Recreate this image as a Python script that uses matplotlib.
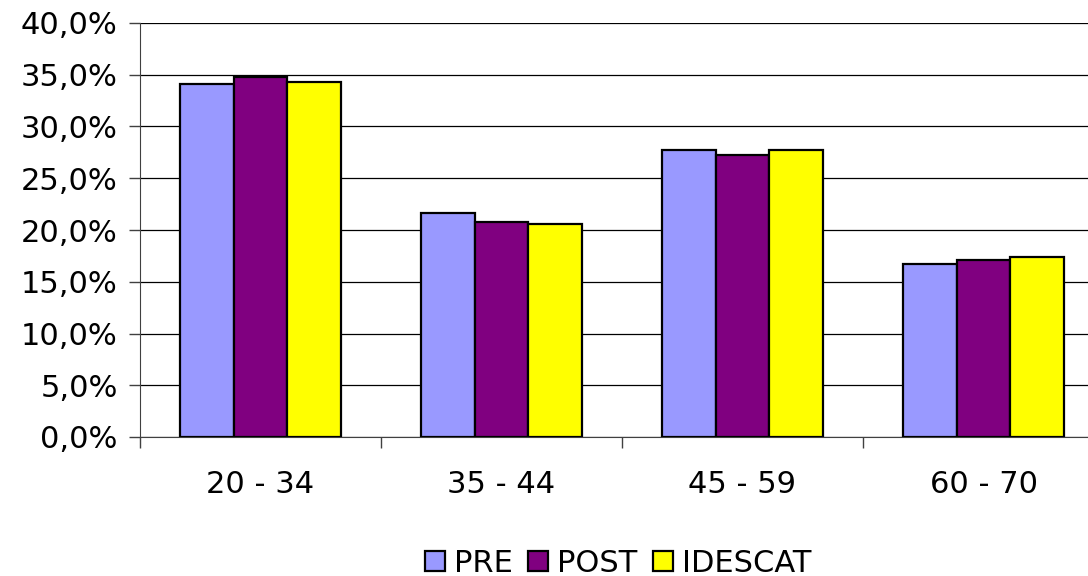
import matplotlib
matplotlib.use("Agg")
import matplotlib.pyplot as plt
from matplotlib.ticker import FuncFormatter
import numpy as np

# data (percent)
groups = ["20 - 34", "35 - 44", "45 - 59", "60 - 70"]
series_names = ["PRE", "POST", "IDESCAT"]
pre = [34.1, 21.6, 27.7, 16.7]
post = [34.8, 20.8, 27.2, 17.1]
idescat = [34.3, 20.6, 27.7, 17.4]
colors = ["#9999FF", "#800080", "#FFFF00"]

plt.rcParams["font.family"] = ["DejaVu Sans"]

fig = plt.figure(figsize=(10.88, 5.76), dpi=100)
# axes runs a bit past the right edge, like the original (clipped)
ax = fig.add_axes([140 / 1088, 1 - 437 / 576, 964 / 1088, 414 / 576])

x = np.arange(len(groups))
w = 0.224
for i, (vals, name) in enumerate(zip([pre, post, idescat], series_names)):
    ax.bar(x + (i - 1) * w, vals, width=w, color=colors[i], edgecolor="black",
           linewidth=1.6, label=name, zorder=3)

ax.set_xlim(-0.5, 3.5)
ax.set_ylim(0, 40)
ax.set_yticks(np.arange(0, 41, 5))
ax.yaxis.set_major_formatter(FuncFormatter(lambda v, p: ("%.1f%%" % v).replace(".", ",")))
ax.grid(axis="y", color="black", linewidth=0.9, zorder=0)

# category boundaries as tick marks, labels at centres
ax.set_xticks([-0.5, 0.5, 1.5, 2.5])
ax.set_xticklabels([])
ax.set_xticks(x, minor=True)
ax.set_xticklabels(groups, minor=True)
ax.tick_params(axis="x", which="minor", length=0, pad=24, labelsize=22)
ax.tick_params(axis="x", which="major", length=8, width=1, color="#404040", direction="out")
ax.tick_params(axis="y", length=8, width=1, color="#404040", labelsize=22, pad=8)

for s in ["top", "right"]:
    ax.spines[s].set_visible(False)
ax.spines["left"].set_color("#404040")
ax.spines["bottom"].set_color("#404040")

fig.legend(loc="center", bbox_to_anchor=(618 / 1088, 1 - 563 / 576), ncol=3,
           frameon=False, fontsize=22, handlelength=0.65, handleheight=0.65,
           handletextpad=0.3, columnspacing=0.5, borderpad=0)

fig.savefig("out.png", dpi=100)
